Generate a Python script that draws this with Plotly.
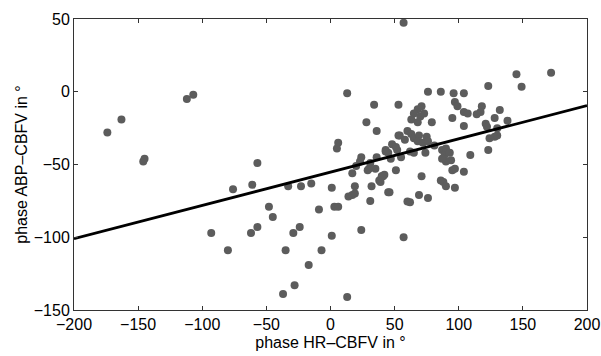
import plotly.graph_objects as go

# Scatter data: phase HR-CBFV (x) vs phase ABP-CBFV (y), degrees
x_vals = [
    -174, -163, -146, -145, -112, -107, -57,
    -76, -61, -33, -23, -15, 1, -48, -45, -57, -62, -93, -80, -35, -29, -24,
    -7, -17, -28, -37, 13, 1, 24, -9, 3, 6, 14, 17, 19, 19, 17, 31, 32, 38,
    40, 42, 45, 51, 29, 35,
    13, 34, 53, 28, 36, 6, 5, 24, 23, 31, 36, 43, 48, 53, 45, 52, 30, 20,
    57, 145, 172, 149, 123, 76, 86, 96, 104,
    97, 99, 104, 107, 118, 117, 132, 68, 71, 65, 70, 73, 63, 68, 79, 95,
    104, 114, 121, 122, 128, 138,
    54, 60, 63, 65, 69, 75, 68, 72, 76, 81, 58, 51, 55, 62, 65, 74, 87, 90,
    89, 93, 94, 90, 87, 109, 123, 124, 128, 130, 130, 47, 43,
    71, 41, 86, 88, 90, 95, 97, 104, 97, 69, 76, 60, 62, 57, 39, 46, 40,
]
y_vals = [
    -28, -19, -48, -46, -5, -2, -49,
    -67, -64, -65, -65, -63, -66, -79, -86, -93, -97, -97, -109, -109, -97, -93,
    -109, -119, -133, -139, -141, -99, -95, -81, -79, -79, -72, -71, -70, -65, -56, -75, -65, -61,
    -58, -57, -69, -54, -54, -53,
    -1, -9, -9, -21, -27, -35, -39, -45, -48, -49, -45, -40, -36, -30, -42, -40, -53, -51,
    47.5, 12, 13, 3.5, 4, 0, 0, -1, -1,
    -7, -10, -14, -15, -10, -14, -12.5, -12, -10, -15, -17, -15, -19, -21, -21, -18,
    -23.5, -15.5, -22, -24, -18, -20,
    -30, -27, -29, -32, -30, -31, -34, -35, -34, -37, -33, -38, -45, -41, -42, -42, -40, -39,
    -43.5, -42, -47, -48, -46, -43.5, -40, -32, -31, -25, -30, -46, -41,
    -58, -58, -61, -62, -65, -54, -53, -55, -66, -71, -73, -75.5, -76, -100, -62, -69, -58,
]

# Regression line endpoints
fit_x = [-200, 200]
fit_y = [-101, -9.5]

x_ticks = [-200, -150, -100, -50, 0, 50, 100, 150, 200]
y_ticks = [-150, -100, -50, 0, 50]

fig = go.Figure()
fig.add_trace(go.Scatter(
    x=x_vals, y=y_vals, mode="markers",
    marker=dict(size=8, color="#5c5c5c", line=dict(width=0)),
    showlegend=False, cliponaxis=False,
))
fig.add_trace(go.Scatter(
    x=fit_x, y=fit_y, mode="lines",
    line=dict(color="black", width=2.8),
    showlegend=False,
))

font_family = "Liberation Sans, Arial, Helvetica, sans-serif"
axis_common = dict(
    showgrid=False, zeroline=False, automargin=False,
    showline=True, linecolor="#333333", linewidth=1,
    mirror="ticks", ticks="inside", ticklen=4, tickwidth=1, tickcolor="#333333",
    tickfont=dict(family=font_family, size=16, color="black"),
)

fig.update_layout(
    width=601, height=356,
    margin=dict(l=74, r=14, t=19, b=46),
    paper_bgcolor="white", plot_bgcolor="white",
    xaxis=dict(range=[-200, 200], tickvals=x_ticks,
               title=dict(text="phase HR\u2013CBFV in \u00b0",
                          font=dict(family=font_family, size=16, color="black"),
                          standoff=4),
               **axis_common),
    yaxis=dict(range=[-150, 50], tickvals=y_ticks,
               title=dict(text="phase ABP\u2013CBFV in \u00b0",
                          font=dict(family=font_family, size=16, color="black"),
                          standoff=2),
               **axis_common),
)

fig.write_html("out.html")
